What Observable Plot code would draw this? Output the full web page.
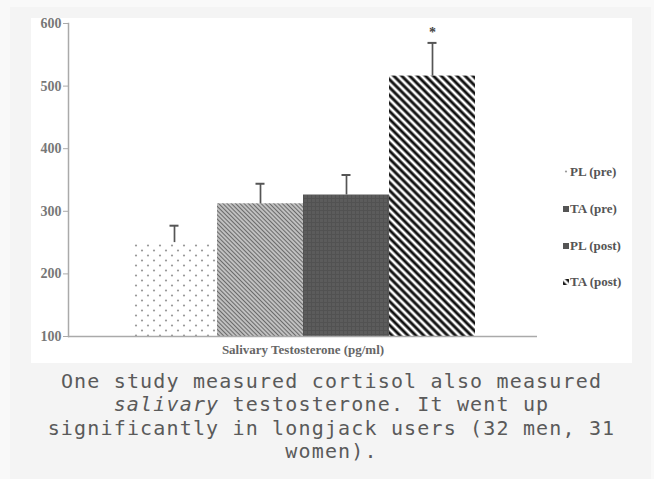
<!DOCTYPE html>
<html>
<head>
<meta charset="utf-8">
<script src="https://cdn.jsdelivr.net/npm/d3@7"></script>
<script src="https://cdn.jsdelivr.net/npm/@observablehq/plot@0.6"></script>
<style>
  html, body { margin: 0; padding: 0; background: #f9f9f9; }
  #fig {
    position: absolute; left: 10px; top: 7px; width: 641px; height: 480px;
    background: #f4f4f4; box-sizing: border-box; padding: 11px 20px 0 21px;
  }
  #chart { position: relative; width: 601px; height: 345px; background: #fff; }
  #legend {
    position: absolute; left: 532px; top: 136px;
    font-family: "Liberation Serif", serif; font-weight: bold; font-size: 13px; color: #555;
  }
  #legend .row { height: 36.7px; display: flex; align-items: center; white-space: nowrap; }
  #legend svg { margin-right: 1px; }
  #caption {
    width: 601px; margin-top: 7px; text-align: center;
    font-family: "DejaVu Sans Mono", monospace; font-size: 20px; letter-spacing: 1.16px;
    line-height: 23.3px; color: #5a5a5a;
  }
  #caption span { display: block; }
</style>
</head>
<body>
<svg width="0" height="0" style="position:absolute">
  <defs>
    <pattern id="pl-pre" width="12" height="10" patternUnits="userSpaceOnUse">
      <rect width="12" height="10" fill="#fff"/>
      <circle cx="3" cy="2.5" r="1.1" fill="#9a9a9a"/>
      <circle cx="9" cy="7.5" r="1.1" fill="#9a9a9a"/>
    </pattern>
    <pattern id="ta-pre" width="3" height="3" patternUnits="userSpaceOnUse" patternTransform="rotate(45)">
      <rect width="3" height="3" fill="#dcdcdc"/>
      <line x1="0" y1="1.5" x2="3" y2="1.5" stroke="#6a6a6a" stroke-width="1.5"/>
    </pattern>
    <pattern id="pl-post" width="4" height="4" patternUnits="userSpaceOnUse">
      <rect width="4" height="4" fill="#5c5c5c"/>
      <line x1="0" y1="0.5" x2="4" y2="0.5" stroke="#525252" stroke-width="1"/>
      <line x1="0.5" y1="0" x2="0.5" y2="4" stroke="#525252" stroke-width="1"/>
    </pattern>
    <pattern id="ta-post" width="5.6" height="5.6" patternUnits="userSpaceOnUse" patternTransform="rotate(45)">
      <rect width="5.6" height="5.6" fill="#fff"/>
      <line x1="0" y1="2.8" x2="5.6" y2="2.8" stroke="#111" stroke-width="2.9"/>
    </pattern>
    <pattern id="sw-dark" width="6" height="6" patternUnits="userSpaceOnUse">
      <rect width="6" height="6" fill="#555"/>
    </pattern>
  </defs>
</svg>
<div id="fig">
  <div id="chart"><div id="legend"></div></div>
  <div id="caption"><span>One study measured cortisol also measured</span><span><i>salivary</i> testosterone. It went up</span><span>significantly in longjack users (32 men, 31</span><span>women).</span></div>
</div>
<script>
// ---- data ----
const groups = ["PL (pre)", "TA (pre)", "PL (post)", "TA (post)"];
const means = [250, 312, 326, 516];
const errors = [27, 32, 32, 53];
const significant = [false, false, false, true];
const yTicks = [100, 200, 300, 400, 500, 600];
const yDomain = [100, 600];
const xLabel = "Salivary Testosterone (pg/ml)";
// ---- styles ----
const fills = ["url(#pl-pre)", "url(#ta-pre)", "url(#pl-post)", "url(#ta-post)"];
const swatches = ["url(#pl-pre)", "url(#sw-dark)", "url(#sw-dark)", "url(#ta-post)"];

const data = groups.map((g, i) => ({group: g, mean: means[i], err: errors[i], sig: significant[i]}));

const chart = Plot.plot({
  width: 601,
  height: 345,
  marginLeft: 37,
  marginRight: 95,
  marginTop: 5,
  marginBottom: 27,
  style: {fontFamily: "Liberation Serif, serif", fontWeight: "bold", fontSize: "14px", background: "transparent", overflow: "visible"},
  x: {domain: groups, paddingInner: 0, paddingOuter: 0.72, axis: null},
  y: {domain: yDomain, axis: null},
  color: {domain: groups, range: fills},
  marks: [
    Plot.barY(data, {x: "group", y1: yDomain[0], y2: "mean", fill: "group"}),
    Plot.ruleX(data, {x: "group", y1: "mean", y2: d => d.mean + d.err, stroke: "#555", strokeWidth: 1.7}),
    Plot.tickY(data, {x: "group", y: d => d.mean + d.err, insetLeft: 38.5, insetRight: 38.5, stroke: "#555", strokeWidth: 2}),
    Plot.text(data.filter(d => d.sig), {x: "group", y: d => d.mean + d.err, text: () => "*", dy: -10, fontSize: 14, fill: "#444"}),
    Plot.ruleY([yDomain[0]], {stroke: "#aaa", strokeWidth: 1.5}),
    Plot.frame({anchor: "left", stroke: "#aaa", strokeWidth: 1.5}),
    Plot.axisY({ticks: yTicks, tickSize: 5, tickPadding: 2, stroke: "#aaa", fill: "#777", label: null, tickFormat: d => String(d)}),
    Plot.text([xLabel], {frameAnchor: "bottom", dy: 17, fill: "#666", fontSize: 13})
  ]
});
document.getElementById("chart").prepend(chart);

const legend = document.getElementById("legend");
groups.forEach((g, i) => {
  const row = document.createElement("div");
  row.className = "row";
  row.innerHTML = `<svg width="6" height="6"><rect width="6" height="6" fill="${swatches[i]}"/></svg><span>${g}</span>`;
  legend.appendChild(row);
});
</script>
</body>
</html>
